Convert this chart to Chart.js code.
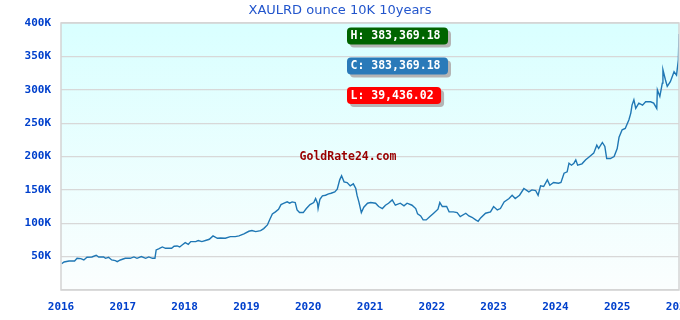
<!DOCTYPE html>
<html>
<head>
<meta charset="utf-8">
<script src="https://cdn.jsdelivr.net/npm/chart.js@4.4.1/dist/chart.umd.min.js"></script>
<style>
html,body{margin:0;padding:0;background:#fff;}
#wrap{width:680px;height:320px;position:relative;}
</style>
</head>
<body>
<div id="wrap"><canvas id="c" width="680" height="320"></canvas></div>
<script>
const chartTitle = 'XAULRD ounce 10K 10years';
const watermark = 'GoldRate24.com';
const badgeLabels = ['H: 383,369.18', 'C: 383,369.18', 'L: 39,436.02'];
const badgeColors = ['#006400', '#2a7ab9', '#ff0000'];
const yearTicks = [2016, 2017, 2018, 2019, 2020, 2021, 2022, 2023, 2024, 2025, 2026];

// time in fractional years
const times = [
 2016.01,2016.05,2016.13,2016.22,2016.26,2016.32,2016.37,2016.42,2016.50,2016.57,
 2016.61,2016.69,2016.72,2016.77,2016.82,2016.88,2016.91,2016.96,2017.04,2017.12,
 2017.18,2017.23,2017.30,2017.37,2017.42,2017.48,2017.52,2017.54,2017.58,2017.64,
 2017.69,2017.79,2017.83,2017.88,2017.92,2017.96,2018.01,2018.06,2018.10,2018.18,
 2018.22,2018.28,2018.35,2018.40,2018.46,2018.53,2018.58,2018.66,2018.74,2018.82,
 2018.88,2018.96,2019.04,2019.09,2019.15,2019.23,2019.28,2019.34,2019.38,2019.42,
 2019.47,2019.52,2019.56,2019.61,2019.66,2019.70,2019.74,2019.79,2019.82,2019.86,
 2019.92,2019.97,2020.03,2020.09,2020.12,2020.15,2020.16,2020.19,2020.23,2020.28,
 2020.33,2020.37,2020.43,2020.47,2020.51,2020.54,2020.58,2020.63,2020.68,2020.73,
 2020.77,2020.79,2020.82,2020.86,2020.90,2020.96,2021.01,2021.09,2021.14,2021.20,
 2021.25,2021.30,2021.36,2021.41,2021.49,2021.55,2021.60,2021.68,2021.74,2021.77,
 2021.82,2021.86,2021.91,2021.97,2022.03,2022.10,2022.13,2022.17,2022.24,2022.28,
 2022.35,2022.41,2022.46,2022.55,2022.60,2022.65,2022.71,2022.75,2022.79,2022.87,
 2022.95,2023.00,2023.06,2023.11,2023.17,2023.25,2023.30,2023.35,2023.42,2023.49,
 2023.57,2023.62,2023.68,2023.72,2023.76,2023.81,2023.87,2023.91,2023.97,2024.05,
 2024.09,2024.14,2024.19,2024.22,2024.26,2024.30,2024.33,2024.36,2024.43,2024.49,
 2024.54,2024.62,2024.67,2024.70,2024.76,2024.80,2024.83,2024.89,2024.95,2025.00,
 2025.03,2025.08,2025.13,2025.19,2025.22,2025.24,2025.27,2025.30,2025.35,2025.41,
 2025.46,2025.54,2025.59,2025.64,2025.65,2025.69,2025.73,2025.74,2025.78,2025.81,
 2025.86,2025.92,2025.96,2025.99,2026.00
];
// price in thousands
const prices = [
 39.4,42,43.5,43.5,47.5,47,45,49,49.5,52,
 49.5,49.5,47.5,49,45,44,42.5,45,47.5,47.5,
 49.5,47.5,50,47.5,49.5,47.5,47.5,60,61.5,64.5,
 62.5,62.5,65.5,66,64.5,67.5,71,68.5,72.5,72.5,
 74,72.5,74.5,76,81,77.5,78,77.5,80,80,
 81,84,88,89,87.5,89,92,97.5,106,114,
 117,121,128,130,132,130,132,131,120,116,
 116,122,128,131,137,130,122,136,141,142,
 144,145,147,151,165,171,162,161,156,159,
 152,142,132,116,124,130,131,130,125,122,
 127,130,135,127,130,126,130,127,122,114,
 111,105,105,110,115,121,131,125,125,117,
 117,116,110,115,111,109,105,103,108,115,
 117,125,120,122,132,137,142,137,142,152,
 147,150,149,142,156,155,165,157,161,160,
 161,175,177,190,187,190,195,187,189,195,
 199,205,217,212,221,215,197,197,200,212,
 229,240,242,255,265,277,285,272,280,277,
 282,282,280,272,300,290,310,330,315,305,
 312,327,322,345,383.37
];

const points = times.map((t, i) => ({x: t, y: prices[i] * 1000}));

const monoBold = (s) => ({family: "'DejaVu Sans Mono', monospace", size: s, weight: 'bold'});

const decorPlugin = {
  id: 'decor',
  beforeDraw(chart) {
    const {ctx, chartArea: a} = chart;
    ctx.save();
    const g = ctx.createLinearGradient(0, a.top, 0, a.bottom);
    g.addColorStop(0, '#d9ffff');
    g.addColorStop(1, '#fbfefe');
    ctx.fillStyle = g;
    ctx.fillRect(a.left, a.top, a.right - a.left, a.bottom - a.top);
    ctx.restore();
  },
  afterDatasetsDraw(chart) {
    const {ctx, chartArea: a} = chart;
    ctx.save();
    ctx.strokeStyle = '#d4d4d4';
    ctx.lineWidth = 1.5;
    ctx.strokeRect(a.left, a.top, a.right - a.left, a.bottom - a.top);
    // title
    ctx.font = "13px 'DejaVu Sans', sans-serif";
    ctx.fillStyle = '#2255cc';
    ctx.textAlign = 'center';
    ctx.textBaseline = 'middle';
    ctx.fillText(chartTitle, 340, 11);
    // watermark
    ctx.font = "bold 11.5px 'DejaVu Sans Mono', monospace";
    ctx.fillStyle = '#990000';
    ctx.fillText(watermark, 348, 157.5);
    // badges
    ctx.textAlign = 'left';
    const tops = [27.5, 57.5, 87];
    badgeLabels.forEach((lab, i) => {
      const w = ctx.measureText(lab).width + 11;
      const x = 347, y = tops[i], h = 17;
      ctx.fillStyle = '#b4b4b4';
      ctx.beginPath(); ctx.roundRect(x + 3, y + 3, w, h, 4); ctx.fill();
      ctx.fillStyle = badgeColors[i];
      ctx.beginPath(); ctx.roundRect(x, y, w, h, 4); ctx.fill();
      ctx.fillStyle = '#ffffff';
      ctx.fillText(lab, x + 3.5, y + h / 2 + 0.5);
    });
    ctx.restore();
  }
};

new Chart(document.getElementById('c'), {
  type: 'line',
  data: {
    datasets: [{
      data: points,
      borderColor: '#1f77b4',
      borderWidth: 1.4,
      pointRadius: 0,
      tension: 0,
      fill: false
    }]
  },
  options: {
    responsive: false,
    animation: false,
    devicePixelRatio: 1,
    layout: {padding: {top: 23, right: 1, left: 0, bottom: 0}},
    plugins: {legend: {display: false}, tooltip: {enabled: false}, title: {display: false}},
    scales: {
      x: {
        type: 'linear',
        min: 2016, max: 2026,
        afterBuildTicks(scale) { scale.ticks = yearTicks.map(v => ({value: v})); },
        afterFit(scale) { scale.height = 30; scale.paddingLeft = 0; scale.paddingRight = 0; },
        grid: {display: false, drawTicks: false},
        border: {display: false},
        ticks: {
          color: '#0040cc', font: monoBold(11), padding: 11, maxRotation: 0, autoSkip: false,
          callback: (v) => String(v)
        }
      },
      y: {
        min: 0, max: 400000,
        afterFit(scale) { scale.width = 61; scale.paddingTop = 0; scale.paddingBottom = 0; },
        grid: {color: '#d8d8d8', lineWidth: 1.2, drawTicks: false},
        border: {display: false},
        ticks: {
          stepSize: 50000, color: '#0040cc', font: monoBold(11), padding: 10,
          callback: (v) => v === 0 ? '' : (v / 1000) + 'K'
        }
      }
    }
  },
  plugins: [decorPlugin]
});
</script>
</body>
</html>
